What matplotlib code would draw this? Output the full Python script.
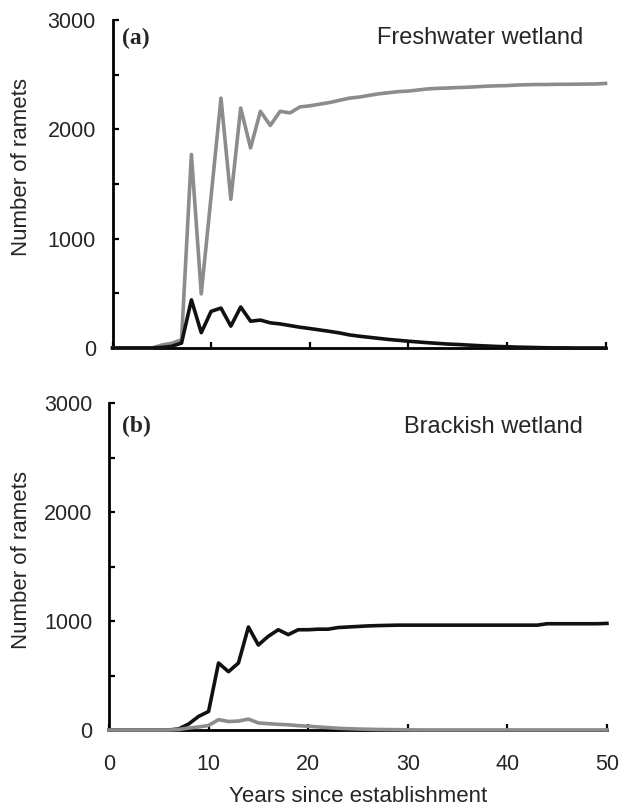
import numpy as np
from matplotlib import pyplot as plt

plt.rcParams['font.family'] = ['Liberation Sans', 'DejaVu Sans']

# Lata od założenia populacji
years = list(range(0, 51))

# (a) Freshwater wetland
fresh_gray = [0, 0, 0, 0, 0, 27, 43, 75, 1770, 495,
              1390, 2285, 1360, 2195, 1830, 2165, 2035, 2165, 2150, 2205,
              2215, 2230, 2245, 2265, 2285, 2295, 2310, 2325, 2335, 2345,
              2350, 2360, 2370, 2375, 2378, 2382, 2385, 2390, 2395, 2398,
              2400, 2405, 2408, 2410, 2410, 2412, 2412, 2413, 2414, 2415,
              2420]
fresh_black = [0, 0, 0, 0, 0, 5, 15, 45, 440, 140,
               335, 365, 200, 375, 245, 255, 230, 220, 205, 190,
               178, 165, 152, 138, 120, 108, 98, 88, 78, 70,
               62, 55, 48, 42, 36, 32, 27, 22, 18, 14,
               11, 8, 6, 4, 2, 1, 1, 0, 0, 0,
               0]

# (b) Brackish wetland
brack_black = [0, 0, 0, 0, 0, 0, 0, 10, 55, 125,
               170, 615, 535, 615, 945, 780, 860, 920, 875, 920,
               920, 925, 925, 940, 945, 950, 955, 958, 960, 962,
               962, 962, 962, 962, 962, 962, 962, 962, 962, 962,
               962, 962, 962, 962, 975, 975, 975, 975, 975, 975,
               978]
brack_gray = [0, 0, 0, 0, 0, 0, 0, 5, 18, 28,
              42, 95, 78, 82, 100, 65, 58, 52, 48, 40,
              35, 28, 22, 16, 12, 9, 7, 5, 4, 3,
              2, 1, 1, 1, 1, 1, 1, 1, 1, 1,
              1, 1, 1, 1, 1, 1, 1, 1, 1, 1,
              1]

x_ticks = [0, 10, 20, 30, 40, 50]
y_ticks = [0, 1000, 2000, 3000]

GRAY = '#8c8c8c'
BLACK = '#111111'
TXT = '#262626'

fig = plt.figure(figsize=(6.22, 8.07), dpi=100)
ax1 = fig.add_axes([0.1809, 0.5688, 0.7926, 0.4064])
ax2 = fig.add_axes([0.1752, 0.0954, 0.8006, 0.4052])


def style_axis(ax, show_xlabels):
    ax.set_xlim(0, 50)
    ax.set_ylim(0, 3000)
    for s in ['top', 'right']:
        ax.spines[s].set_visible(False)
    for s in ['left', 'bottom']:
        ax.spines[s].set_linewidth(2.0)
    ax.set_xticks(x_ticks)
    ax.set_yticks(y_ticks)
    ax.set_yticks(np.arange(500, 3000, 1000), minor=True)
    ax.tick_params(axis='both', which='major', direction='in', length=4,
                   width=1.6, labelsize=15.5, color='black', labelcolor=TXT)
    ax.tick_params(axis='y', which='minor', direction='in', length=4, width=1.6)
    ax.tick_params(axis='y', which='major', pad=12)
    ax.tick_params(axis='x', which='major', pad=17, labelbottom=show_xlabels)
    ax.set_ylabel('Number of ramets', fontsize=16, color=TXT)


# Wykres (a)
ax1.plot(years, fresh_gray, color=GRAY, lw=2.6, clip_on=False, zorder=3)
ax1.plot(years, fresh_black, color=BLACK, lw=2.6, clip_on=False, zorder=4)
style_axis(ax1, False)
ax1.yaxis.set_label_coords(-0.163, 0.552)
ax1.text(0.019, 0.945, '(a)', transform=ax1.transAxes, fontsize=17,
         fontweight='bold', family='Liberation Serif', va='center', ha='left',
         color=TXT)
ax1.text(0.954, 0.945, 'Freshwater wetland', transform=ax1.transAxes,
         fontsize=17, va='center', ha='right', color=TXT)

# Wykres (b)
ax2.plot(years, brack_black, color=BLACK, lw=2.6, clip_on=False, zorder=3)
ax2.plot(years, brack_gray, color=GRAY, lw=2.6, clip_on=False, zorder=4)
style_axis(ax2, True)
ax2.yaxis.set_label_coords(-0.155, 0.52)
ax2.set_xlabel('Years since establishment', fontsize=16, color=TXT,
               labelpad=8)
ax2.text(0.026, 0.927, '(b)', transform=ax2.transAxes, fontsize=17,
         fontweight='bold', family='Liberation Serif', va='center', ha='left',
         color=TXT)
ax2.text(0.952, 0.927, 'Brackish wetland', transform=ax2.transAxes,
         fontsize=17, va='center', ha='right', color=TXT)

plt.savefig('out.png', dpi=100)
